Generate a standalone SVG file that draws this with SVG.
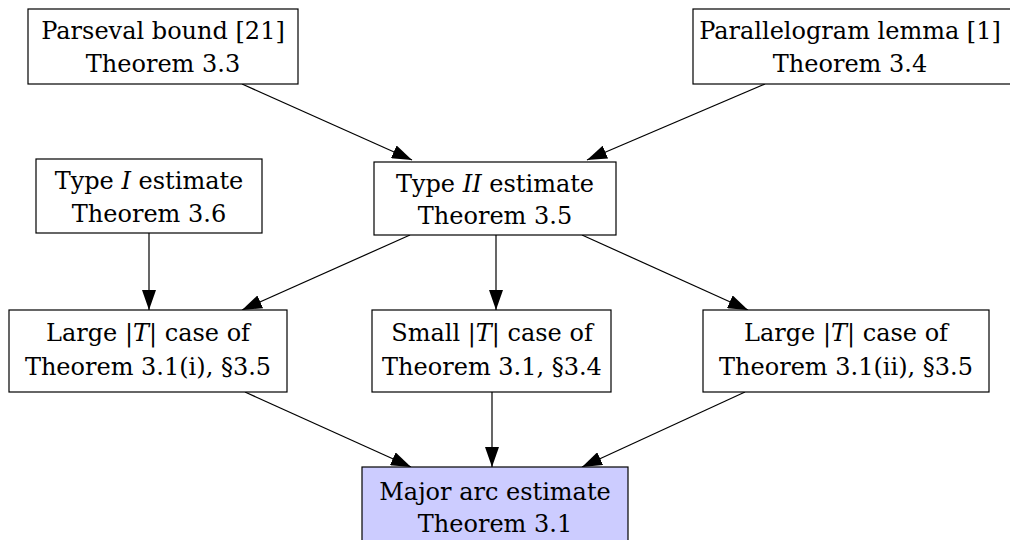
<svg xmlns="http://www.w3.org/2000/svg" width="1010" height="540" viewBox="0 0 1010 540">
<defs>
<style>
.box{fill:#fff;stroke:#000;stroke-width:1.2}
.major{fill:#ccccff;stroke:#000;stroke-width:1.2}
.t{font-family:"DejaVu Serif",serif;font-size:24px;text-anchor:middle;fill:#000}
.it{font-style:italic}
.edge{stroke:#000;stroke-width:1.2;fill:none;marker-end:url(#ah)}
</style>
<marker id="ah" viewBox="0 0 20 14" refX="20" refY="7" markerWidth="20" markerHeight="14" markerUnits="userSpaceOnUse" orient="auto">
<path d="M0,0 L20,7 L0,14 Z" fill="#000"/>
</marker>
</defs>
<rect width="1010" height="540" fill="#fff"/>
<g id="connectors">
<line class="edge" x1="242" y1="84" x2="412" y2="160"/>
<line class="edge" x1="765" y1="84" x2="587" y2="160"/>
<line class="edge" x1="149" y1="233" x2="149" y2="310"/>
<line class="edge" x1="496" y1="235" x2="496" y2="310"/>
<line class="edge" x1="410" y1="235" x2="242" y2="310"/>
<line class="edge" x1="582" y1="235" x2="748" y2="310"/>
<line class="edge" x1="245" y1="392" x2="411" y2="467"/>
<line class="edge" x1="492" y1="392" x2="492" y2="467"/>
<line class="edge" x1="745" y1="392" x2="582" y2="467"/>
</g>
<g id="parseval">
<rect class="box" x="28" y="9" width="270" height="75"/>
<text class="t" x="163" y="39">Parseval bound [21]</text>
<text class="t" x="163" y="72">Theorem 3.3</text>
</g>
<g id="parallelogram">
<rect class="box" x="693" y="9" width="320" height="75"/>
<text class="t" x="850" y="39">Parallelogram lemma [1]</text>
<text class="t" x="850" y="72">Theorem 3.4</text>
</g>
<g id="typeI">
<rect class="box" x="36" y="159" width="226" height="74"/>
<text class="t" x="149" y="189">Type <tspan class="it">I</tspan> estimate</text>
<text class="t" x="149" y="222">Theorem 3.6</text>
</g>
<g id="typeII">
<rect class="box" x="374" y="162" width="242" height="73"/>
<text class="t" x="495" y="192">Type <tspan class="it">II</tspan> estimate</text>
<text class="t" x="495" y="224">Theorem 3.5</text>
</g>
<g id="largeI">
<rect class="box" x="9" y="310" width="278" height="82"/>
<text class="t" x="148" y="341">Large |<tspan class="it">T</tspan>| case of</text>
<text class="t" x="148" y="375">Theorem 3.1(i), §3.5</text>
</g>
<g id="small">
<rect class="box" x="372" y="310" width="239" height="82"/>
<text class="t" x="492" y="341">Small |<tspan class="it">T</tspan>| case of</text>
<text class="t" x="492" y="375">Theorem 3.1, §3.4</text>
</g>
<g id="largeII">
<rect class="box" x="703" y="310" width="286" height="82"/>
<text class="t" x="846" y="341">Large |<tspan class="it">T</tspan>| case of</text>
<text class="t" x="846" y="375">Theorem 3.1(ii), §3.5</text>
</g>
<g id="major">
<rect class="major" x="362" y="467" width="266" height="80"/>
<text class="t" x="495" y="500">Major arc estimate</text>
<text class="t" x="495" y="532">Theorem 3.1</text>
</g>
</svg>
